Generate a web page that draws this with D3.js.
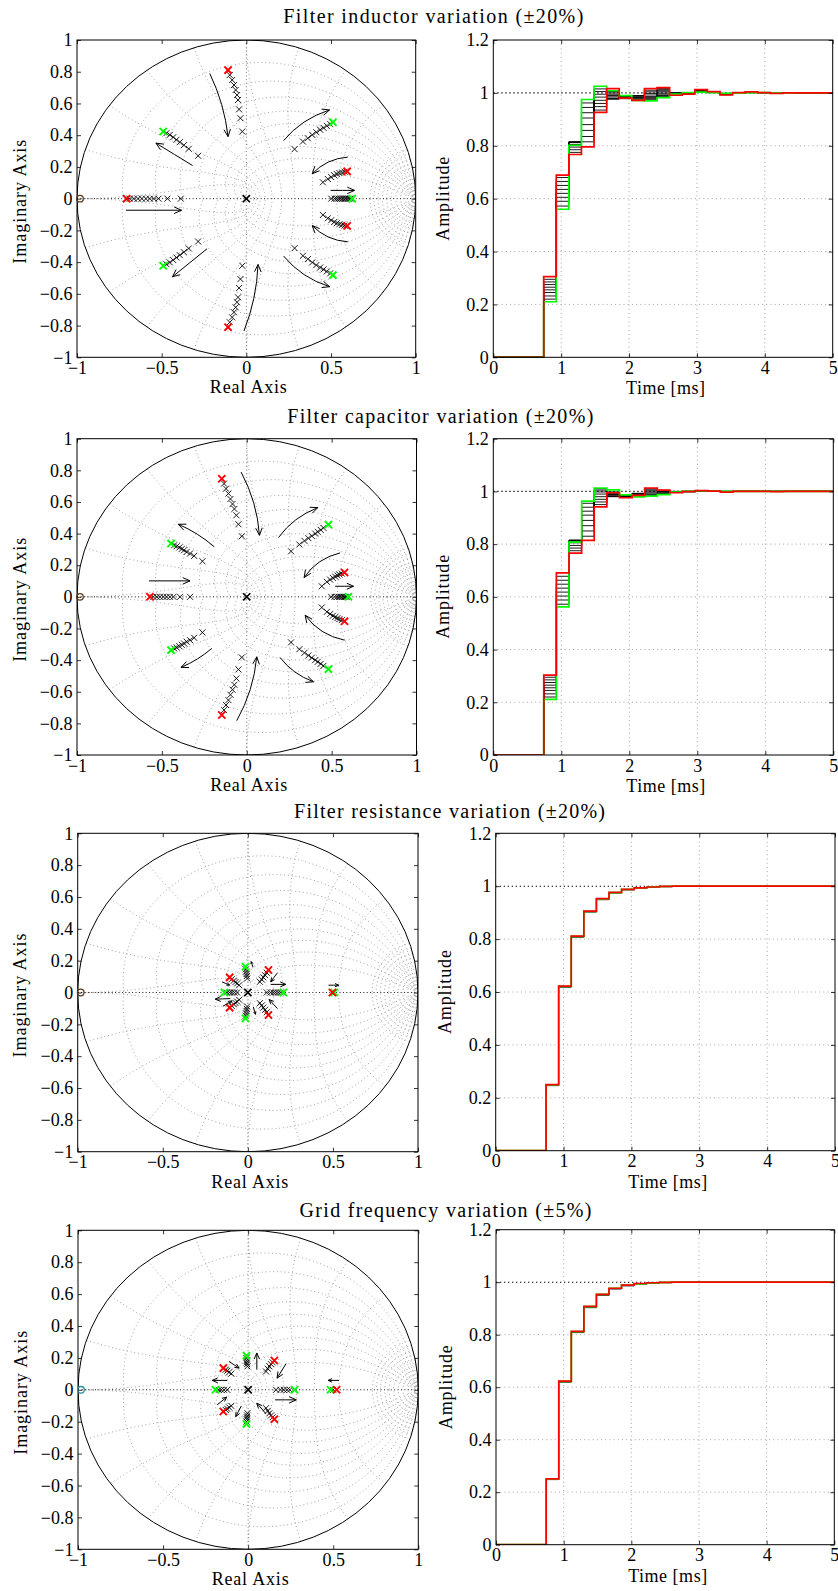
<!DOCTYPE html>
<html><head><meta charset="utf-8">
<script src="https://cdn.jsdelivr.net/npm/d3@7"></script>
<style>
body{margin:0;background:#fff}
text{font-family:"Liberation Serif","Times New Roman",serif;fill:#000}
</style>
</head><body>
<svg id="c" width="838" height="1591"></svg>
<script>
// ---------------- data ----------------
const titles = ["Filter inductor variation (\u00b120%)","Filter capacitor variation (\u00b120%)","Filter resistance variation (\u00b120%)","Grid frequency variation (\u00b15%)"];
const pzXTicks = [-1,-0.5,0,0.5,1];
const pzYTicks = [-1,-0.8,-0.6,-0.4,-0.2,0,0.2,0.4,0.6,0.8,1];
const stepXTicks = [0,1,2,3,4,5];
const stepYTicks = [0,0.2,0.4,0.6,0.8,1,1.2];
const gridZeta = [0.1,0.2,0.3,0.4,0.5,0.6,0.7,0.8,0.9];
const gridWnFrac = [0.1,0.2,0.3,0.4,0.5,0.6,0.7,0.8,0.9,1.0];
const gridWnSmallFrac = [0.01,0.02,0.03,0.04,0.05,0.06,0.07,0.08,0.09];

// poles (upper half + real axis; conjugates mirrored)
const indBlack = [[-0.098,0.779],[-0.084,0.748],[-0.073,0.716],[-0.063,0.685],[-0.055,0.653],[-0.049,0.622],[-0.043,0.563],[-0.035,0.507],[-0.024,0.423],
 [-0.472,0.413],[-0.452,0.402],[-0.432,0.387],[-0.413,0.371],[-0.393,0.356],[-0.369,0.337],[-0.340,0.314],[-0.285,0.270],
 [0.285,0.312],[0.334,0.360],[0.363,0.381],[0.389,0.402],[0.413,0.419],[0.436,0.434],[0.456,0.446],[0.475,0.459],[0.495,0.471],
 [0.452,0.103],[0.481,0.124],[0.501,0.136],[0.519,0.147],[0.534,0.155],[0.550,0.161],[0.566,0.165],[0.580,0.170],
 [0.501,0],[0.521,0],[0.534,0],[0.546,0],[0.556,0],[0.566,0],[0.576,0],[0.585,0],[0.595,0],[0.605,0],[0.615,0],
 [-0.688,0],[-0.664,0],[-0.640,0],[-0.617,0],[-0.593,0],[-0.570,0],[-0.546,0],[-0.519,0],[-0.466,0],[-0.387,0]];
const indRed = [[-0.108,0.810],[0.595,0.172],[-0.707,0]];
const indGreen = [[-0.491,0.423],[0.511,0.482],[0.625,0]];
const indArrows = [[-0.216,0.789,-0.108,0.391,0.08],[-0.014,-0.834,0.069,-0.415,-0.08],
 [-0.318,0.209,-0.534,0.350,0],[-0.232,-0.316,-0.436,-0.492,0],
 [0.220,0.366,0.491,0.559,0.15],[0.220,-0.362,0.491,-0.555,-0.15],
 [0.599,0.262,0.389,0.157,-0.2],[0.599,-0.272,0.389,-0.170,0.2],
 [0.497,0.052,0.639,0.052,0],[-0.711,-0.073,-0.383,-0.073,0]];

const capBlack = [[-0.134,0.716],[-0.122,0.684],[-0.108,0.653],[-0.096,0.619],[-0.084,0.587],[-0.073,0.556],[-0.061,0.516],[-0.049,0.459],[-0.029,0.383],
 [-0.428,0.326],[-0.413,0.320],[-0.397,0.312],[-0.383,0.303],[-0.369,0.295],[-0.354,0.284],[-0.334,0.274],[-0.310,0.259],[-0.261,0.225],
 [0.261,0.288],[0.310,0.331],[0.340,0.354],[0.363,0.371],[0.383,0.385],[0.403,0.400],[0.418,0.411],[0.436,0.423],[0.452,0.436],
 [0.442,0.067],[0.472,0.095],[0.491,0.109],[0.507,0.120],[0.521,0.128],[0.534,0.135],[0.546,0.141],[0.560,0.147],
 [0.497,0],[0.517,0],[0.532,0],[0.544,0],[0.554,0],[0.564,0],[0.572,0],[0.580,0],[0.588,0],
 [-0.550,0],[-0.530,0],[-0.511,0],[-0.491,0],[-0.472,0],[-0.452,0],[-0.432,0],[-0.393,0],[-0.334,0]];
const capRed = [[-0.147,0.747],[0.576,0.154],[-0.570,0]];
const capGreen = [[-0.446,0.337],[0.481,0.457],[0.599,0]];
const capArrows = [[-0.033,0.789,0.075,0.389,0.1],[-0.059,-0.783,0.059,-0.379,-0.1],
 [-0.191,0.316,-0.403,0.459,-0.08],[-0.206,-0.326,-0.387,-0.446,0.08],
 [0.187,0.375,0.418,0.564,0.15],[0.196,-0.383,0.393,-0.537,-0.15],
 [0.550,0.278,0.338,0.122,-0.2],[0.576,-0.274,0.344,-0.116,0.2],
 [0.521,0.067,0.629,0.067,0],[-0.576,0.101,-0.334,0.101,0]];

const resBlack = [[-0.012,0.145],[-0.010,0.131],[-0.008,0.116],[-0.006,0.103],[-0.004,0.088],
 [0.111,0.124],[0.101,0.109],[0.091,0.095],[0.081,0.082],[0.071,0.067],
 [-0.095,0.084],[-0.083,0.074],[-0.073,0.065],[-0.063,0.057],[-0.051,0.046],
 [-0.123,0],[-0.107,0],[-0.093,0],[-0.079,0],[-0.063,0],
 [0.111,0],[0.134,0],[0.150,0],[0.164,0],[0.178,0],[0.194,0],[0.500,0]];
const resRed = [[0.121,0.141],[-0.107,0.095],[0.497,0]];
const resGreen = [[-0.014,0.162],[-0.138,0],[0.209,0],[0.507,0]];
const resArrows = [[0.030,0.158,0.020,0.194,0],[0.174,0.124,0.134,0.067,0],[0.134,0.051,0.223,0.051,0],
 [-0.152,0.067,-0.107,0.046,0],[-0.103,-0.038,-0.192,-0.042,0],[0.474,0.046,0.534,0.046,0],
 [0.174,-0.101,0.125,-0.044,0],[0.032,-0.091,0.045,-0.137,0],[-0.146,-0.086,-0.093,-0.053,0]];

const grdBlack = [[-0.010,0.199],[-0.008,0.184],[-0.008,0.172],[-0.006,0.161],[-0.004,0.147],
 [0.144,0.172],[0.134,0.161],[0.125,0.147],[0.115,0.132],[0.105,0.115],
 [-0.132,0.126],[-0.123,0.119],[-0.111,0.111],[-0.099,0.101],
 [-0.172,0],[-0.158,0],[-0.142,0],[-0.123,0],
 [0.164,0],[0.190,0],[0.209,0],[0.229,0],[0.245,0],[0.500,0]];
const grdRed = [[0.154,0.184],[-0.146,0.136],[0.520,0]];
const grdGreen = [[-0.010,0.214],[-0.192,0],[0.273,0],[0.484,0]];
const grdArrows = [[0.051,0.126,0.051,0.231,0],[0.223,0.164,0.170,0.073,0],[-0.113,0.178,-0.053,0.136,0],
 [-0.123,0.059,-0.211,0.059,0],[0.534,0.059,0.470,0.059,0],[0.158,-0.063,0.283,-0.063,0],
 [-0.182,-0.094,-0.126,-0.046,0],[-0.040,-0.101,-0.073,-0.168,0],[0.105,-0.151,0.051,-0.084,0]];

// step responses (value held from stepTimes[i] to the next time)
const stepTimes = [0,0.742,0.928,1.113,1.299,1.484,1.670,1.855,2.041,2.226,2.412,2.597,2.783,2.968,3.154,3.339,3.525,3.710,3.896,4.081,4.267,4.452,4.638,4.823];
const stepEnd = 5;

const indStepGreen = [0,0.210,0.560,0.802,0.975,1.025,1.008,0.990,0.972,0.970,0.982,0.995,1.001,1.003,1.001,0.998,0.999,1.001,1.001,1.000,0.999,1,1,1];
const indStepRed   = [0,0.305,0.689,0.767,0.796,0.926,1.016,0.980,0.972,1.016,1.020,0.991,0.995,1.012,1.005,0.992,1.001,1.004,1.001,0.998,1,1,1,1];
const indStepBlack = [
 [0,0.295,0.680,0.775,0.815,0.935,1.005,0.978,0.976,1.010,1.016,0.993,0.996,1.011,1.005,0.993,1.001,1.003,1.001,0.998,1,1,1,1],
 [0,0.285,0.665,0.785,0.835,0.948,0.995,0.980,0.980,1.004,1.012,0.995,0.997,1.010,1.004,0.994,1.001,1.003,1.001,0.998,1,1,1,1],
 [0,0.275,0.650,0.795,0.858,0.960,0.985,0.982,0.984,0.998,1.008,0.997,0.998,1.009,1.004,0.995,1.000,1.002,1.001,0.999,1,1,1,1],
 [0,0.265,0.635,0.805,0.880,0.972,0.978,0.984,0.988,0.992,1.004,0.999,0.999,1.008,1.003,0.995,1.000,1.002,1.001,0.999,1,1,1,1],
 [0,0.255,0.620,0.812,0.905,0.984,0.976,0.986,0.990,0.986,0.999,1.000,1.000,1.007,1.003,0.996,1.000,1.002,1.001,0.999,1,1,1,1],
 [0,0.245,0.605,0.815,0.925,0.995,0.980,0.987,0.988,0.982,0.995,1.000,1.000,1.006,1.002,0.997,1.000,1.001,1.001,0.999,1,1,1,1],
 [0,0.232,0.590,0.815,0.945,1.005,0.990,0.988,0.982,0.978,0.990,0.999,1.000,1.005,1.002,0.997,1.000,1.001,1.001,1.000,1,1,1,1],
 [0,0.220,0.572,0.813,0.962,1.015,1.000,0.989,0.976,0.974,0.986,0.997,1.001,1.004,1.001,0.998,0.999,1.001,1.001,1.000,1,1,1,1]];

const capStepGreen = [0,0.211,0.562,0.808,0.963,1.013,1.006,0.987,0.979,0.982,0.988,0.997,1.000,1.002,1.001,1.000,1,1,1,1,1,1,1,1];
const capStepRed   = [0,0.303,0.691,0.766,0.814,0.941,0.995,0.976,0.985,1.013,1.005,0.995,0.999,1.003,1.001,0.997,1.000,1.000,1.000,0.999,1,1,1,1];
const capStepBlack = [
 [0,0.295,0.678,0.775,0.830,0.950,0.993,0.977,0.984,1.010,1.004,0.996,0.999,1.003,1.001,0.998,1,1,1,1,1,1,1,1],
 [0,0.285,0.663,0.785,0.850,0.960,0.990,0.978,0.987,1.006,1.003,0.997,0.999,1.003,1.001,0.998,1,1,1,1,1,1,1,1],
 [0,0.275,0.648,0.795,0.870,0.970,0.986,0.979,0.990,1.002,1.001,0.998,0.999,1.002,1.001,0.999,1,1,1,1,1,1,1,1],
 [0,0.265,0.633,0.805,0.890,0.980,0.982,0.980,0.992,0.998,0.999,0.999,1.000,1.002,1.001,0.999,1,1,1,1,1,1,1,1],
 [0,0.255,0.618,0.812,0.910,0.990,0.980,0.982,0.993,0.994,0.997,1.000,1.000,1.002,1.001,1,1,1,1,1,1,1,1,1],
 [0,0.245,0.603,0.815,0.925,0.998,0.982,0.984,0.991,0.990,0.994,1.000,1.000,1.002,1.001,1,1,1,1,1,1,1,1,1],
 [0,0.232,0.588,0.815,0.940,1.005,0.988,0.985,0.986,0.987,0.991,0.999,1.000,1.002,1.001,1,1,1,1,1,1,1,1,1],
 [0,0.220,0.572,0.812,0.955,1.010,0.998,0.986,0.981,0.984,0.989,0.998,1.000,1.002,1.001,1,1,1,1,1,1,1,1,1]];

const resStepGreen = [0,0.249,0.621,0.810,0.905,0.952,0.976,0.988,0.994,0.997,0.999,1,1,1,1,1,1,1,1,1,1,1,1,1];
const resStepRed   = [0,0.250,0.622,0.811,0.906,0.953,0.977,0.988,0.994,0.997,0.999,1,1,1,1,1,1,1,1,1,1,1,1,1];
const resStepBlack = [[0,0.246,0.618,0.807,0.902,0.949,0.974,0.986,0.993,0.996,0.998,0.999,1,1,1,1,1,1,1,1,1,1,1,1]];

const grdStepGreen = [0,0.250,0.622,0.812,0.907,0.954,0.977,0.989,0.994,0.997,0.999,1,1,1,1,1,1,1,1,1,1,1,1,1];
const grdStepRed   = [0,0.251,0.623,0.813,0.908,0.954,0.977,0.989,0.995,0.998,0.999,1,1,1,1,1,1,1,1,1,1,1,1,1];
const grdStepBlack = [[0,0.248,0.619,0.808,0.903,0.950,0.974,0.986,0.993,0.996,0.998,0.999,1,1,1,1,1,1,1,1,1,1,1,1]];

// ---------------- layout ----------------
const layout = [
 {pz:{x0:77,x1:415.7,y0:40,y1:357.3}, st:{x0:493.3,x1:832.7,y0:40,y1:357.3}, tt:{x:433.3,y:23.3,w:300}},
 {pz:{x0:77,x1:416.5,y0:438.7,y1:755}, st:{x0:493.3,x1:833.3,y0:438.7,y1:755}, tt:{x:440.3,y:422.5,w:306}},
 {pz:{x0:77.7,x1:418,y0:833.3,y1:1151.7}, st:{x0:495.7,x1:835,y0:833.3,y1:1150.7}, tt:{x:449.5,y:818.3,w:311}},
 {pz:{x0:78,x1:418.3,y0:1230.3,y1:1549.3}, st:{x0:496,x1:834.3,y0:1229.7,y1:1544.7}, tt:{x:445.5,y:1216.7,w:292}}
];
const rows = [
 {black:indBlack, red:indRed, green:indGreen, arrows:indArrows, zc:"#5b3a1c", sb:indStepBlack, sg:indStepGreen, sr:indStepRed},
 {black:capBlack, red:capRed, green:capGreen, arrows:capArrows, zc:"#5b3a1c", sb:capStepBlack, sg:capStepGreen, sr:capStepRed},
 {black:resBlack, red:resRed, green:resGreen, arrows:resArrows, zc:"#5b3a1c", sb:resStepBlack, sg:resStepGreen, sr:resStepRed},
 {black:grdBlack, red:grdRed, green:grdGreen, arrows:grdArrows, zc:"#2a8f9c", sb:grdStepBlack, sg:grdStepGreen, sr:grdStepRed}
];

// ---------------- drawing ----------------
const svg = d3.select("#c");
const FONT = "Liberation Serif, Times New Roman, serif";
const fmt = v => (v < 0 ? "\u2212" : "") + String(Math.abs(+v.toFixed(2)));
const GRID = "#8c8c8c";

function frame(g, x, y, b, xt, yt){
  const style = s => s.attr("font-size",18).attr("font-family",FONT)
    .call(s=>s.select(".domain").remove())
    .call(s=>s.selectAll(".tick line").attr("stroke-width",0.8));
  g.append("g").attr("transform",`translate(0,${b.y1})`)
    .call(d3.axisBottom(x).tickValues(xt).tickSize(-4).tickPadding(4).tickFormat(fmt)).call(style);
  g.append("g").attr("transform",`translate(${b.x0},0)`)
    .call(d3.axisLeft(y).tickValues(yt).tickSize(-4).tickPadding(4.5).tickFormat(fmt)).call(style);
  g.append("g").attr("transform",`translate(0,${b.y0})`)
    .call(d3.axisTop(x).tickValues(xt).tickSize(-4).tickFormat("")).call(style);
  g.append("g").attr("transform",`translate(${b.x1},0)`)
    .call(d3.axisRight(y).tickValues(yt).tickSize(-4).tickFormat("")).call(style);
  g.append("rect").attr("x",b.x0).attr("y",b.y0).attr("width",b.x1-b.x0).attr("height",b.y1-b.y0)
    .attr("fill","none").attr("stroke","#000").attr("stroke-width",1);
}

function xMark(g, x, y, pts, s, color, w){
  g.selectAll(null).data(pts).enter().append("path")
    .attr("d", d => { const px=x(d[0]), py=y(d[1]);
      return `M${px-s},${py-s}L${px+s},${py+s}M${px-s},${py+s}L${px+s},${py-s}`; })
    .attr("stroke", color).attr("stroke-width", w).attr("fill","none");
}
const mirror = pts => pts.concat(pts.filter(p => p[1] > 0).map(p => [p[0], -p[1]]));

function drawPZ(g, b, r, i){
  const x = d3.scaleLinear([-1,1],[b.x0,b.x1]);
  const y = d3.scaleLinear([-1,1],[b.y1,b.y0]);
  const cid = "clip"+i;
  g.append("clipPath").attr("id",cid).append("rect")
    .attr("x",b.x0).attr("y",b.y0).attr("width",b.x1-b.x0).attr("height",b.y1-b.y0);
  const gg = g.append("g").attr("clip-path",`url(#${cid})`);
  const line = d3.line().x(d=>x(d[0])).y(d=>y(d[1]));
  // damping curves
  gridZeta.forEach(z => {
    const m = z/Math.sqrt(1-z*z);
    const th = d3.range(0, Math.PI+1e-9, Math.PI/120);
    [1,-1].forEach(sg => {
      gg.append("path").attr("d", line(th.map(t => [Math.exp(-m*t)*Math.cos(t), sg*Math.exp(-m*t)*Math.sin(t)])))
        .attr("fill","none").attr("stroke",GRID).attr("stroke-width",0.8).attr("stroke-dasharray","1,2.8");
    });
  });
  // natural frequency curves
  gridWnFrac.concat(gridWnSmallFrac).forEach(f => {
    const wn = f*Math.PI;
    const ph = d3.range(Math.PI/2, Math.PI+1e-9, Math.PI/80);
    [1,-1].forEach(sg => {
      gg.append("path").attr("d", line(ph.map(p => { const rr=Math.exp(wn*Math.cos(p)), a=wn*Math.sin(p); return [rr*Math.cos(a), sg*rr*Math.sin(a)]; })))
        .attr("fill","none").attr("stroke",GRID).attr("stroke-width",0.8).attr("stroke-dasharray","1,2.8");
    });
  });
  // axis lines
  gg.append("line").attr("x1",x(-1)).attr("x2",x(1)).attr("y1",y(0)).attr("y2",y(0))
    .attr("stroke","#000").attr("stroke-width",0.9).attr("stroke-dasharray","1,2.4");
  gg.append("line").attr("x1",x(0)).attr("x2",x(0)).attr("y1",y(-1)).attr("y2",y(1))
    .attr("stroke","#555").attr("stroke-width",0.8).attr("stroke-dasharray","1,2.6");
  // unit circle
  gg.append("ellipse").attr("cx",x(0)).attr("cy",y(0)).attr("rx",x(1)-x(0)).attr("ry",y(0)-y(1))
    .attr("fill","none").attr("stroke","#000").attr("stroke-width",1);
  // poles
  xMark(gg, x, y, mirror(r.black), 3, "#000", 0.9);
  xMark(gg, x, y, mirror(r.green), 3.6, "#00ff00", 1.9);
  xMark(gg, x, y, mirror(r.red), 3.6, "#ff0000", 1.9);
  xMark(gg, x, y, [[0,0]], 3.6, "#000", 1.7);
  // arrows
  r.arrows.forEach(a => {
    const mx=(a[0]+a[2])/2, my=(a[1]+a[3])/2, dX=a[2]-a[0], dY=a[3]-a[1];
    const cx = mx - a[4]*dY, cy = my + a[4]*dX;
    const p1=[x(a[0]),y(a[1])], p2=[x(a[2]),y(a[3])], c=[x(cx),y(cy)];
    gg.append("path").attr("d",`M${p1[0]},${p1[1]}Q${c[0]},${c[1]} ${p2[0]},${p2[1]}`)
      .attr("fill","none").attr("stroke","#000").attr("stroke-width",1);
    let tx=p2[0]-c[0], ty=p2[1]-c[1]; const tl=Math.hypot(tx,ty); tx/=tl; ty/=tl;
    const len = Math.hypot(p2[0]-p1[0],p2[1]-p1[1]);
    const hl = Math.min(8, len*0.4), an = 0.42;
    const h = s => [p2[0] - hl*(tx*Math.cos(an) - s*ty*Math.sin(an)), p2[1] - hl*(ty*Math.cos(an) + s*tx*Math.sin(an))];
    const h1=h(1), h2=h(-1);
    gg.append("path").attr("d",`M${h1[0]},${h1[1]}L${p2[0]},${p2[1]}L${h2[0]},${h2[1]}`)
      .attr("fill","none").attr("stroke","#000").attr("stroke-width",1);
  });
  frame(g, x, y, b, pzXTicks, pzYTicks);
  // zero (drawn unclipped, over the frame)
  g.append("circle").attr("cx",x(-1)+3).attr("cy",y(0)).attr("r",3.3)
    .attr("fill","none").attr("stroke",r.zc).attr("stroke-width",1.3);
  g.append("text").attr("x",(b.x0+b.x1)/2+2).attr("y",b.y1+36).attr("text-anchor","middle")
    .attr("font-size",18).attr("textLength",77).attr("lengthAdjust","spacing").text("Real Axis");
  g.append("text").attr("transform",`translate(${b.x0-51.5},${(b.y0+b.y1)/2+3}) rotate(-90)`)
    .attr("text-anchor","middle").attr("font-size",18).attr("textLength",124).attr("lengthAdjust","spacing").text("Imaginary Axis");
}

function drawStep(g, b, r, i){
  const x = d3.scaleLinear([0,5],[b.x0,b.x1]);
  const y = d3.scaleLinear([0,1.2],[b.y1,b.y0]);
  const cid = "sclip"+i;
  g.append("clipPath").attr("id",cid).append("rect")
    .attr("x",b.x0).attr("y",b.y0).attr("width",b.x1-b.x0).attr("height",b.y1-b.y0);
  const gg = g.append("g").attr("clip-path",`url(#${cid})`);
  stepXTicks.filter(t => t>0 && t<5).forEach(t => gg.append("line").attr("x1",x(t)).attr("x2",x(t)).attr("y1",b.y0).attr("y2",b.y1)
    .attr("stroke",GRID).attr("stroke-width",0.8).attr("stroke-dasharray","1,3.2"));
  stepYTicks.filter(t => t>0 && t<1).forEach(t => gg.append("line").attr("x1",b.x0).attr("x2",b.x1).attr("y1",y(t)).attr("y2",y(t))
    .attr("stroke",GRID).attr("stroke-width",0.8).attr("stroke-dasharray","1,3.2"));
  gg.append("line").attr("x1",x(0)).attr("x2",x(5)).attr("y1",y(1)).attr("y2",y(1))
    .attr("stroke","#000").attr("stroke-width",1.1).attr("stroke-dasharray","1.3,2.7");
  const line = d3.line().x(d=>x(d[0])).y(d=>y(d[1])).curve(d3.curveStepAfter);
  const pts = v => v.map((val,k)=>[stepTimes[k],val]).concat([[stepEnd, v[v.length-1]]]);
  r.sb.forEach(v => gg.append("path").attr("d",line(pts(v))).attr("fill","none").attr("stroke","#000").attr("stroke-width",0.9));
  gg.append("path").attr("d",line(pts(r.sg))).attr("fill","none").attr("stroke","#00ff00").attr("stroke-width",1.7);
  gg.append("path").attr("d",line(pts(r.sr))).attr("fill","none").attr("stroke","#ff0000").attr("stroke-width",1.7);
  frame(g, x, y, b, stepXTicks, stepYTicks);
  g.append("text").attr("x",(b.x0+b.x1)/2+2.5).attr("y",b.y1+37).attr("text-anchor","middle")
    .attr("font-size",18).attr("textLength",79).attr("lengthAdjust","spacing").text("Time [ms]");
  g.append("text").attr("transform",`translate(${b.x0-44.5},${(b.y0+b.y1)/2}) rotate(-90)`)
    .attr("text-anchor","middle").attr("font-size",18).attr("textLength",84).attr("lengthAdjust","spacing").text("Amplitude");
}

rows.forEach((r,i) => {
  const L = layout[i];
  const g = svg.append("g");
  g.append("text").attr("x",L.tt.x).attr("y",L.tt.y).attr("text-anchor","middle")
    .attr("font-size",20).attr("textLength",L.tt.w).attr("lengthAdjust","spacing").text(titles[i]);
  drawPZ(g, L.pz, r, i);
  drawStep(g, L.st, r, i);
});
</script>
</body></html>
